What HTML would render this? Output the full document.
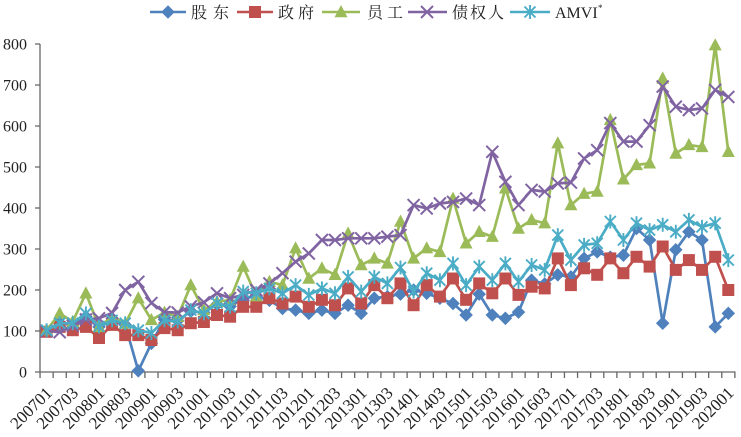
<!DOCTYPE html>
<html><head><meta charset="utf-8">
<style>
html,body{margin:0;padding:0;background:#fff;}
svg{display:block;}
text{font-family:"Liberation Serif","Noto Serif CJK SC",serif;fill:#222;}
</style></head>
<body>
<svg width="741" height="437" viewBox="0 0 741 437" xmlns="http://www.w3.org/2000/svg">
<defs>
<marker id="mD" viewBox="-8 -8 16 16" markerWidth="16" markerHeight="16" refX="0" refY="0" markerUnits="userSpaceOnUse" overflow="visible">
<path d="M0,-6.2 L6.2,0 L0,6.2 L-6.2,0Z" fill="#4F81BD" stroke="#4F81BD" stroke-width="0.8"/></marker>
<marker id="mS" viewBox="-8 -8 16 16" markerWidth="16" markerHeight="16" refX="0" refY="0" markerUnits="userSpaceOnUse" overflow="visible">
<path d="M-6,-6h12v12h-12z" fill="#C0504D"/></marker>
<marker id="mT" viewBox="-8 -8 16 16" markerWidth="16" markerHeight="16" refX="0" refY="0" markerUnits="userSpaceOnUse" overflow="visible">
<path d="M0,-7 L6.5,5.2 L-6.5,5.2Z" fill="#9BBB59"/></marker>
<marker id="mX" viewBox="-8 -8 16 16" markerWidth="16" markerHeight="16" refX="0" refY="0" markerUnits="userSpaceOnUse" overflow="visible">
<path d="M-6,-6L6,6M6,-6L-6,6" stroke="#8064A2" stroke-width="2" fill="none"/></marker>
<marker id="mA" viewBox="-8 -8 16 16" markerWidth="16" markerHeight="16" refX="0" refY="0" markerUnits="userSpaceOnUse" overflow="visible">
<path d="M-5.5,-5.5L5.5,5.5M5.5,-5.5L-5.5,5.5M0,-7V7" stroke="#4BACC6" stroke-width="1.9" fill="none"/></marker>
</defs>

<!-- legend -->
<polyline points="150,12 168,12 186,12" fill="none" stroke="#4F81BD" stroke-width="2.5" marker-mid="url(#mD)"/>
<text x="191" y="18" font-size="16" textLength="38">股东</text>
<polyline points="237,12 255,12 273,12" fill="none" stroke="#C0504D" stroke-width="2.5" marker-mid="url(#mS)"/>
<text x="278" y="18" font-size="16" textLength="36">政府</text>
<polyline points="322,12 341,12 360,12" fill="none" stroke="#9BBB59" stroke-width="2.5" marker-mid="url(#mT)"/>
<text x="367" y="18" font-size="16" textLength="36">员工</text>
<polyline points="408,12 427,12 447,12" fill="none" stroke="#8064A2" stroke-width="2.5" marker-mid="url(#mX)"/>
<text x="452" y="18" font-size="16" textLength="52">债权人</text>
<polyline points="510,12 530,12 550,12" fill="none" stroke="#4BACC6" stroke-width="2.5" marker-mid="url(#mA)"/>
<text x="555" y="18" font-size="16">AMVI</text>
<text x="598" y="11" font-size="9">*</text>

<!-- axes -->
<line x1="40" y1="44" x2="40" y2="372.5" stroke="#666" stroke-width="1.3"/>
<line x1="40" y1="372" x2="735.5" y2="372" stroke="#666" stroke-width="1.3"/>
<path d="M35,44H40M35,85H40M35,126H40M35,167H40M35,208H40M35,249H40M35,290H40M35,331H40M35,372H40" stroke="#666" stroke-width="1.3"/>
<line x1="39.4" y1="375" x2="736" y2="375" stroke="#666" stroke-width="6" stroke-dasharray="1.3 11.81"/>

<!-- y labels -->
<g font-size="16" text-anchor="end">
<text x="27" y="49.5">800</text>
<text x="27" y="90.5">700</text>
<text x="27" y="131.5">600</text>
<text x="27" y="172.5">500</text>
<text x="27" y="213.5">400</text>
<text x="27" y="254.5">300</text>
<text x="27" y="295.5">200</text>
<text x="27" y="336.5">100</text>
<text x="27" y="377.5">0</text>
</g>

<!-- x labels -->
<g font-size="17" text-anchor="end">
<text transform="translate(53.1,394) rotate(-45)">200701</text>
<text transform="translate(79.3,394) rotate(-45)">200703</text>
<text transform="translate(105.5,394) rotate(-45)">200801</text>
<text transform="translate(131.7,394) rotate(-45)">200803</text>
<text transform="translate(158,394) rotate(-45)">200901</text>
<text transform="translate(184.2,394) rotate(-45)">200903</text>
<text transform="translate(210.4,394) rotate(-45)">201001</text>
<text transform="translate(236.6,394) rotate(-45)">201003</text>
<text transform="translate(262.8,394) rotate(-45)">201101</text>
<text transform="translate(289,394) rotate(-45)">201103</text>
<text transform="translate(315.3,394) rotate(-45)">201201</text>
<text transform="translate(341.5,394) rotate(-45)">201203</text>
<text transform="translate(367.7,394) rotate(-45)">201301</text>
<text transform="translate(393.9,394) rotate(-45)">201303</text>
<text transform="translate(420.1,394) rotate(-45)">201401</text>
<text transform="translate(446.4,394) rotate(-45)">201403</text>
<text transform="translate(472.6,394) rotate(-45)">201501</text>
<text transform="translate(498.8,394) rotate(-45)">201503</text>
<text transform="translate(525,394) rotate(-45)">201601</text>
<text transform="translate(551.2,394) rotate(-45)">201603</text>
<text transform="translate(577.4,394) rotate(-45)">201701</text>
<text transform="translate(603.7,394) rotate(-45)">201703</text>
<text transform="translate(629.9,394) rotate(-45)">201801</text>
<text transform="translate(656.1,394) rotate(-45)">201803</text>
<text transform="translate(682.3,394) rotate(-45)">201901</text>
<text transform="translate(708.5,394) rotate(-45)">201903</text>
<text transform="translate(734.8,394) rotate(-45)">202001</text>
</g>

<!-- series -->
<g fill="none" stroke-width="2.7" stroke-linejoin="round">
<polyline stroke="#4F81BD" marker-start="url(#mD)" marker-mid="url(#mD)" marker-end="url(#mD)" points="46.6,331 59.7,322.8 72.8,324.9 85.9,316.7 99,326.9 112.1,320.8 125.2,324.9 138.3,370.8 151.4,343.3 164.5,319.5 177.7,320.8 190.8,311.3 203.9,312.6 217,304.4 230.1,306.4 243.2,298.2 256.3,296.2 269.4,300.3 282.5,308.5 295.6,310.1 308.8,313.4 321.9,310.1 335,313.4 348.1,305.2 361.2,313.4 374.3,298.2 387.4,296.6 400.5,294.1 413.6,290 426.7,293.3 439.9,298.2 453,303.5 466.1,315 479.2,294.1 492.3,315 505.4,318.3 518.5,312.1 531.6,280.2 544.7,283.9 557.8,274.8 570.9,276.9 584.1,258.4 597.2,251.9 610.3,257.2 623.4,255.2 636.5,228.5 649.6,240 662.7,323.2 675.8,249.8 688.9,231.8 702,240 715.2,326.9 728.3,313.4"/>
<polyline stroke="#C0504D" marker-start="url(#mS)" marker-mid="url(#mS)" marker-end="url(#mS)" points="46.6,331.8 59.7,326.9 72.8,330.2 85.9,326.9 99,338 112.1,324.9 125.2,335.1 138.3,335.1 151.4,340 164.5,328.1 177.7,330.2 190.8,323.2 203.9,322 217,315 230.1,316.7 243.2,306.8 256.3,306.8 269.4,298.2 282.5,303.5 295.6,296.6 308.8,306.8 321.9,299.8 335,305.2 348.1,288.4 361.2,303.5 374.3,285.1 387.4,298.2 400.5,283.4 413.6,305.2 426.7,285.1 439.9,296.6 453,278.5 466.1,299.8 479.2,283.4 492.3,293.3 505.4,278.5 518.5,294.9 531.6,286.7 544.7,288.4 557.8,258.4 570.9,285.1 584.1,268.3 597.2,274.8 610.3,258.4 623.4,273.2 636.5,256.8 649.6,266.6 662.7,246.5 675.8,269.9 688.9,260.1 702,269.9 715.2,256.8 728.3,290"/>
<polyline stroke="#9BBB59" marker-start="url(#mT)" marker-mid="url(#mT)" marker-end="url(#mT)" points="46.6,330.2 59.7,313.4 72.8,321.6 85.9,293.3 99,326.9 112.1,316.7 125.2,323.6 138.3,298.2 151.4,319.9 164.5,312.6 177.7,316.7 190.8,285.1 203.9,310.1 217,301.9 230.1,299.8 243.2,266.6 256.3,296.2 269.4,281.8 282.5,285.1 295.6,248.2 308.8,278.5 321.9,268.3 335,274.8 348.1,233.4 361.2,265 374.3,258.4 387.4,263.4 400.5,221.5 413.6,258.4 426.7,248.2 439.9,251.9 453,198.6 466.1,243.3 479.2,231.8 492.3,236.7 505.4,188.3 518.5,228.5 531.6,219.9 544.7,223.2 557.8,143.2 570.9,205.1 584.1,193.7 597.2,191.6 610.3,119.9 623.4,179.3 636.5,164.9 649.6,163.3 662.7,78.4 675.8,153.5 688.9,144.9 702,146.9 715.2,45.2 728.3,151.8"/>
<polyline stroke="#8064A2" marker-start="url(#mX)" marker-mid="url(#mX)" marker-end="url(#mX)" points="46.6,331 59.7,332.2 72.8,325.7 85.9,319.5 99,318.3 112.1,313 125.2,290 138.3,281.8 151.4,303.1 164.5,312.1 177.7,312.6 190.8,306.4 203.9,302.3 217,293.3 230.1,298.2 243.2,294.9 256.3,290 269.4,283.4 282.5,273.2 295.6,261.7 308.8,253.5 321.9,240 335,240 348.1,238.3 361.2,238.3 374.3,238.3 387.4,236.7 400.5,235.1 413.6,205.1 426.7,208.4 439.9,203.5 453,201.9 466.1,198.6 479.2,205.1 492.3,151.8 505.4,181.8 518.5,205.1 531.6,189.9 544.7,191.6 557.8,183.4 570.9,182.6 584.1,158.4 597.2,150.2 610.3,123.1 623.4,141.6 636.5,141.6 649.6,125.2 662.7,86.6 675.8,106.7 688.9,110 702,108.4 715.2,89.9 728.3,96.9"/>
<polyline stroke="#4BACC6" marker-start="url(#mA)" marker-mid="url(#mA)" marker-end="url(#mA)" points="46.6,330.2 59.7,323.2 72.8,323.2 85.9,313.4 99,326.5 112.1,320.3 125.2,323.2 138.3,330.2 151.4,333 164.5,320.3 177.7,321.6 190.8,310.1 203.9,313.4 217,303.1 230.1,306.8 243.2,291.6 256.3,293.3 269.4,288.4 282.5,293.3 295.6,285.1 308.8,294.9 321.9,288.4 335,293.3 348.1,276.9 361.2,291.6 374.3,276.9 387.4,283.4 400.5,267.5 413.6,291.6 426.7,273.2 439.9,280.2 453,263.4 466.1,285.1 479.2,266.6 492.3,280.2 505.4,263.4 518.5,281.8 531.6,265 544.7,269.9 557.8,235.1 570.9,260.1 584.1,244.9 597.2,243.3 610.3,221.5 623.4,240 636.5,223.2 649.6,230.1 662.7,224.8 675.8,231.8 688.9,219.9 702,226.9 715.2,223.2 728.3,260.1"/>
</g>
</svg>
</body></html>
